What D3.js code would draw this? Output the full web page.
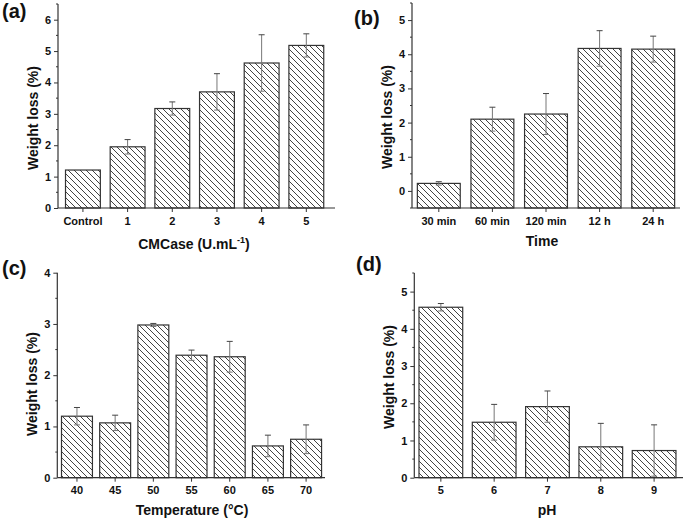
<!DOCTYPE html>
<html><head><meta charset="utf-8">
<script src="https://cdn.jsdelivr.net/npm/d3@7"></script>
<style>
body{margin:0;background:#fff;}
svg text{font-family:"Liberation Sans",Arial,sans-serif;font-weight:bold;fill:#111;}
</style></head>
<body>
<svg id="c" width="685" height="522"></svg>
<script>
// ---- data ----
const catsA = ["Control","1","2","3","4","5"];
const valsA = [1.21, 1.95, 3.17, 3.70, 4.62, 5.18];
const errA  = [0, 0.23, 0.21, 0.58, 0.90, 0.37];
const ticksA = [0,1,2,3,4,5,6];

const catsB = ["30 min","60 min","120 min","12 h","24 h"];
const valsB = [0.22, 2.10, 2.25, 4.17, 4.15];
const errB  = [0.05, 0.35, 0.60, 0.52, 0.38];
const ticksB = [0,1,2,3,4,5];

const catsC = ["40","45","50","55","60","65","70"];
const valsC = [1.20, 1.07, 2.98, 2.39, 2.36, 0.62, 0.75];
const errC  = [0.17, 0.15, 0.03, 0.10, 0.30, 0.21, 0.28];
const ticksC = [0,1,2,3,4];

const catsD = ["5","6","7","8","9"];
const valsD = [4.58, 1.49, 1.91, 0.83, 0.73];
const errD  = [0.10, 0.48, 0.42, 0.63, 0.69];
const ticksD = [0,1,2,3,4,5];

const svg = d3.select("#c");
const defs = svg.append("defs");
const pat = defs.append("pattern").attr("id","hatch").attr("patternUnits","userSpaceOnUse")
  .attr("width",6).attr("height",6);
pat.append("rect").attr("width",6).attr("height",6).attr("fill","#fff");
pat.append("path").attr("d","M-1,-1 L7,7 M-1,5 L1,7 M5,-1 L7,1")
  .attr("stroke","#444").attr("stroke-width",1);

function panel(o){
  const g = svg.append("g");
  const x = d3.scaleBand().domain(o.cats).range(o.xr).paddingInner(o.pi).paddingOuter(o.po).align(o.al);
  const y = d3.scaleLinear().domain(o.yd).range(o.yr);
  const base = y(o.yd[0]);
  // bars
  g.selectAll("rect.bar").data(o.cats).join("rect")
    .attr("x",(d)=>x(d)).attr("width",x.bandwidth())
    .attr("y",(d,i)=>y(o.vals[i])).attr("height",(d,i)=>base-y(o.vals[i]))
    .attr("fill","url(#hatch)").attr("stroke","#333").attr("stroke-width",1.2);
  // error bars
  o.cats.forEach((c,i)=>{
    const e=o.errs[i]; if(!e) return;
    const cx=x(c)+x.bandwidth()/2;
    const t=y(o.vals[i]+e), b=y(Math.max(0,o.vals[i]-e));
    g.append("line").attr("x1",cx).attr("x2",cx).attr("y1",t).attr("y2",b).attr("stroke","#777").attr("stroke-width",1);
    g.append("line").attr("x1",cx-3).attr("x2",cx+3).attr("y1",t).attr("y2",t).attr("stroke","#444").attr("stroke-width",1);
    g.append("line").attr("x1",cx-3).attr("x2",cx+3).attr("y1",b).attr("y2",b).attr("stroke","#777").attr("stroke-width",1);
  });
  // y axis
  const ya = g.append("g").attr("transform",`translate(${o.xr[0]},0)`)
    .call(d3.axisLeft(y).tickValues(o.ticks).tickSize(4).tickPadding(3).tickFormat(d3.format("d")));
  ya.select(".domain").attr("stroke","#333").attr("stroke-width",1.2).attr("d",`M0,${o.yr[0]}V${o.yr[1]}`);
  ya.selectAll(".tick line").attr("stroke","#333");
  ya.selectAll(".tick text").attr("font-size",11).attr("font-family","Liberation Sans, Arial").attr("font-weight","bold").attr("fill","#111");
  // minor ticks
  const minors = d3.range(o.yd[0], o.yd[1]+0.001, 0.5).filter(v=>Math.abs(v-Math.round(v))>0.1);
  g.selectAll("line.minor").data(minors).join("line")
    .attr("x1",o.xr[0]-2).attr("x2",o.xr[0]).attr("y1",d=>y(d)).attr("y2",d=>y(d))
    .attr("stroke","#333");
  // x axis
  const xa = g.append("g").attr("transform",`translate(0,${o.yr[0]})`)
    .call(d3.axisBottom(x).tickSize(4).tickPadding(5));
  xa.select(".domain").attr("stroke","#333").attr("stroke-width",1.2).attr("d",`M${o.xr[0]},0H${o.xr[1]}`);
  xa.selectAll(".tick line").attr("stroke","#333");
  xa.selectAll(".tick text").attr("font-size",11).attr("font-family","Liberation Sans, Arial").attr("font-weight","bold").attr("fill","#111");
  // y label
  g.append("text").attr("transform",`translate(${o.ylx},${o.yly}) rotate(-90)`)
    .attr("text-anchor","middle").attr("font-size",14).text("Weight loss (%)");
  // x label
  const xt = g.append("text").attr("x",o.xlx).attr("y",o.xly).attr("text-anchor","middle").attr("font-size",14);
  if(o.sup){
    xt.append("tspan").text(o.xlabel);
    xt.append("tspan").attr("dy",-6).attr("font-size",9).text(o.sup);
    xt.append("tspan").attr("dy",6).text(o.after);
  } else xt.text(o.xlabel);
  // panel label
  g.append("text").attr("x",o.lx).attr("y",o.ly).attr("font-size",20).text(o.label);
}

panel({cats:catsA, vals:valsA, errs:errA, ticks:ticksA, xr:[58,335], pi:0.22, po:0.21, al:0.4,
  yd:[0,6.5], yr:[208,4], ylx:38, yly:118, xlabel:"CMCase (U.mL", sup:"-1", after:")", xlx:194, xly:249,
  label:"(a)", lx:2, ly:18});
panel({cats:catsB, vals:valsB, errs:errB, ticks:ticksB, xr:[412,680], pi:0.2, po:0.1, al:0.5,
  yd:[-0.5,5.5], yr:[208,3], ylx:392, yly:117, xlabel:"Time", xlx:542, xly:246,
  label:"(b)", lx:354, ly:25});
panel({cats:catsC, vals:valsC, errs:errC, ticks:ticksC, xr:[57.3,325], pi:0.19, po:0.1, al:0.55,
  yd:[0,4], yr:[477.7,272.7], ylx:37, yly:384, xlabel:"Temperature (°C)", xlx:192, xly:515,
  label:"(c)", lx:2, ly:275});
panel({cats:catsD, vals:valsD, errs:errD, ticks:ticksD, xr:[414.3,683], pi:0.18, po:0.11, al:0.4,
  yd:[0,5.5], yr:[477.7,273], ylx:394, yly:377, xlabel:"pH", xlx:547, xly:515,
  label:"(d)", lx:356, ly:271});
</script>
</body></html>
